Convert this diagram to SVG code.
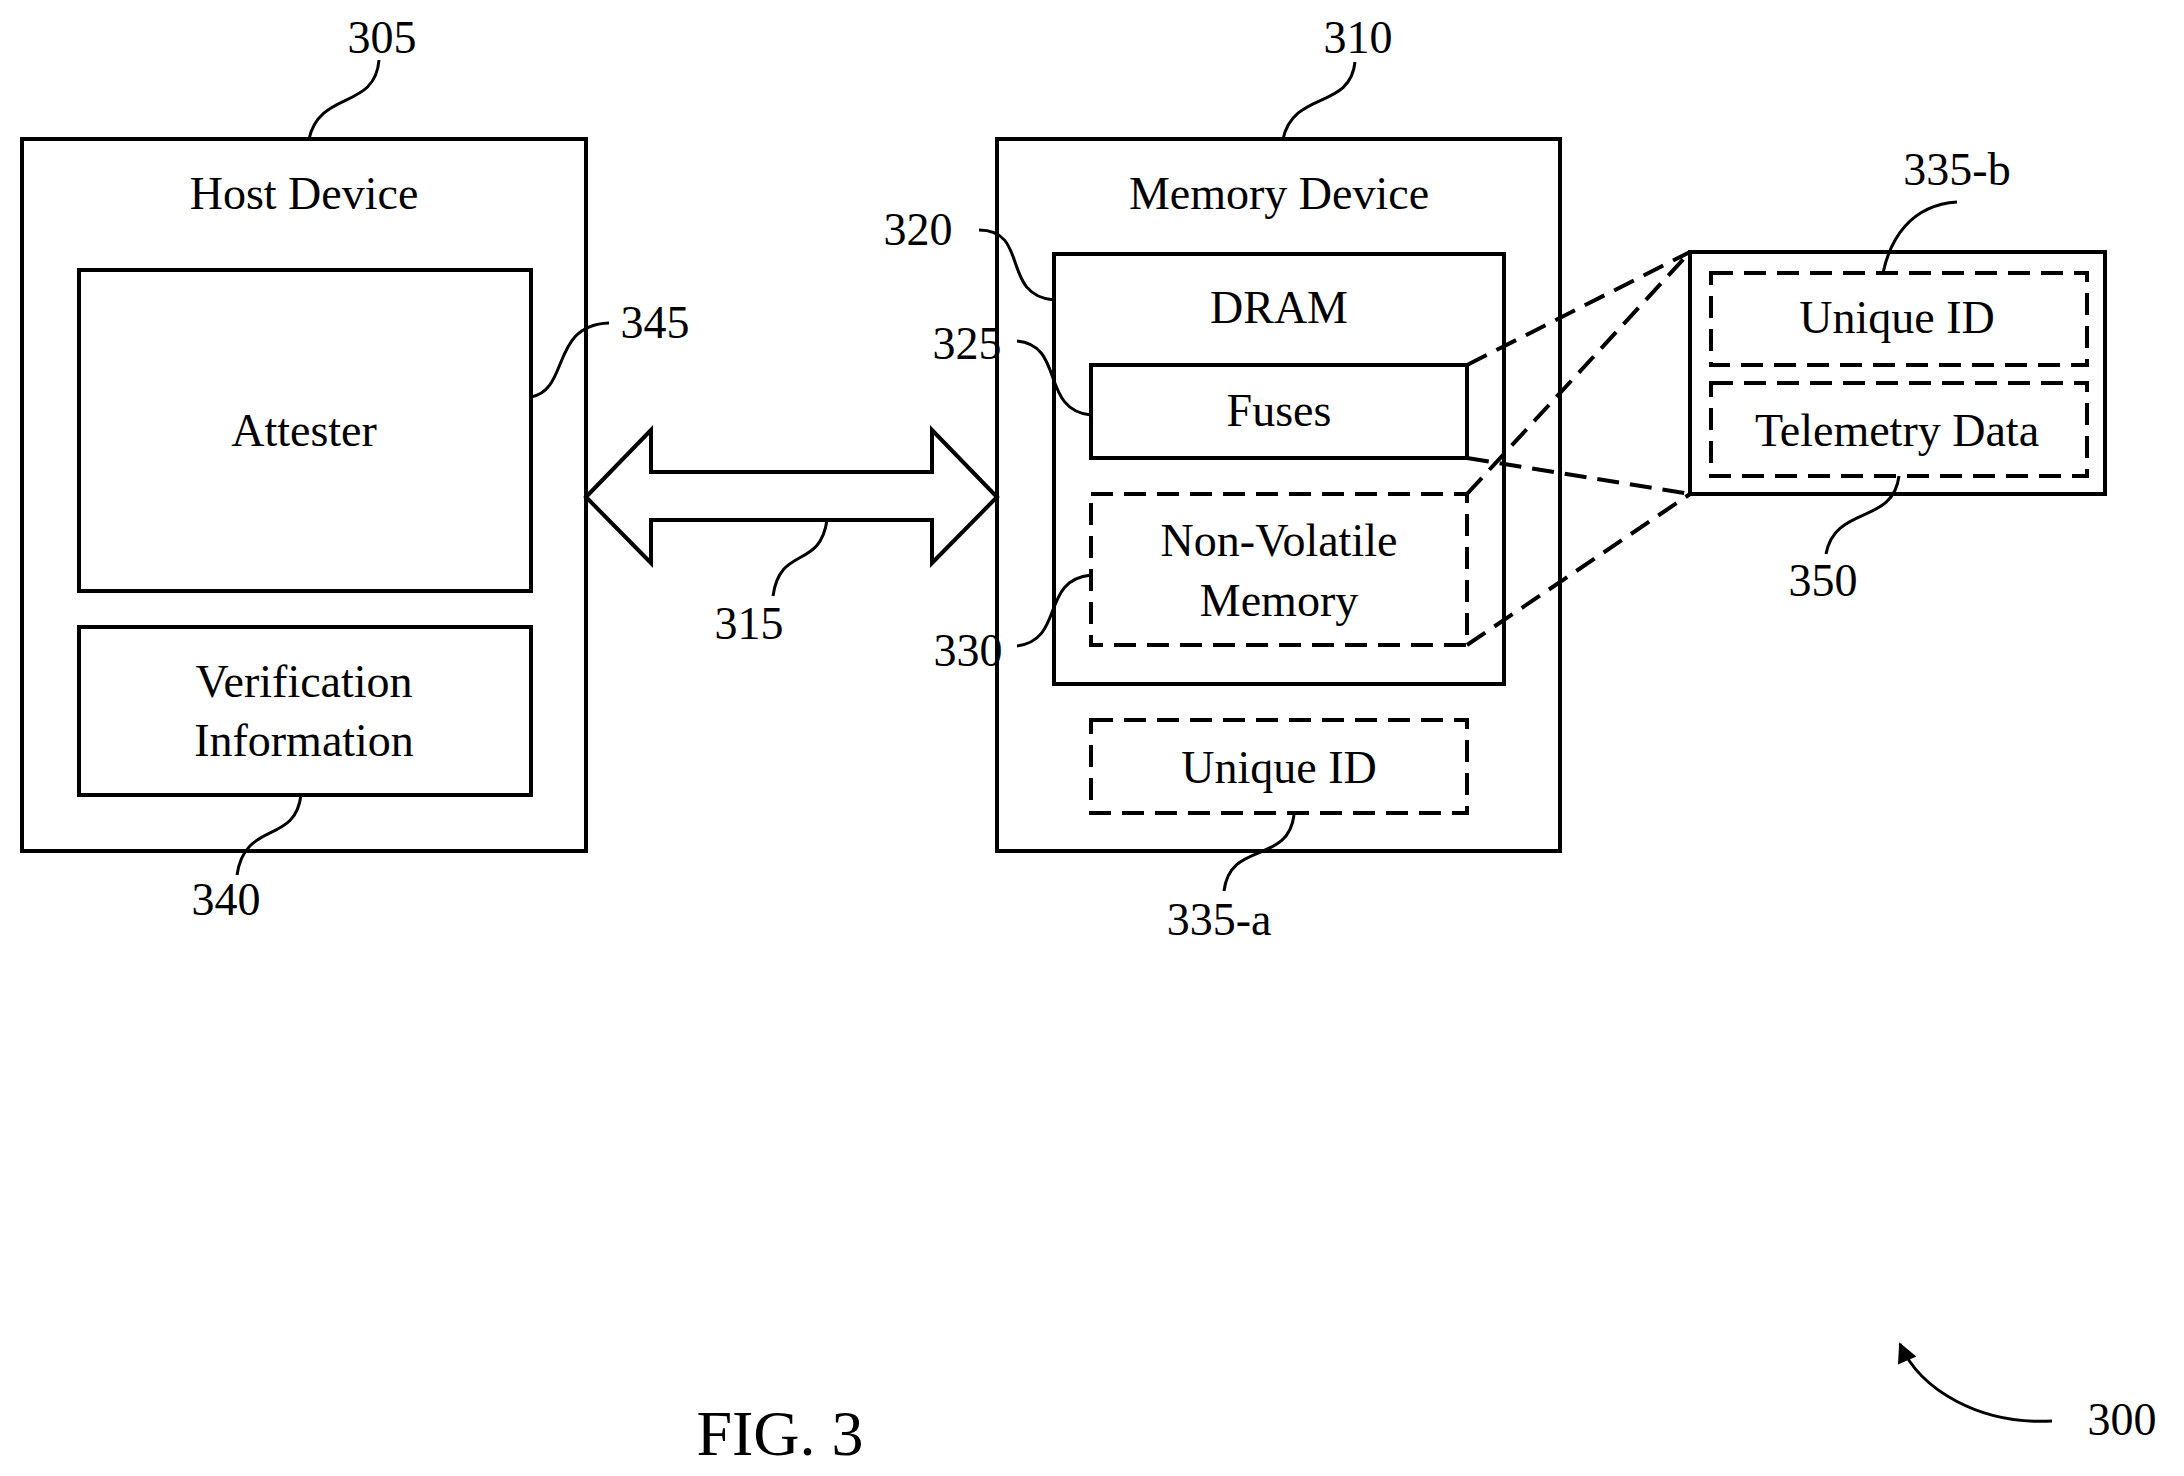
<svg xmlns="http://www.w3.org/2000/svg" width="2184" height="1476" viewBox="0 0 2184 1476">
<style>
text{font-family:"Liberation Serif",serif;font-size:46px;fill:#000;text-anchor:middle}
.b{fill:none;stroke:#000;stroke-width:4}
.d{fill:none;stroke:#000;stroke-width:4;stroke-dasharray:22,11}
.l{fill:none;stroke:#000;stroke-width:3}
</style>
<defs><marker id="ah" viewBox="0 0 10 10" refX="9" refY="5" markerWidth="24" markerHeight="20" orient="auto" markerUnits="userSpaceOnUse"><path d="M0,0L10,5L0,10z"/></marker></defs>
<rect width="2184" height="1476" fill="#fff"/>
<g id="host"><rect class="b" x="22" y="139" width="564" height="712"/><text x="304" y="209">Host Device</text></g>
<g id="attester"><rect class="b" x="79" y="270" width="452" height="321"/><text x="304" y="446">Attester</text></g>
<g id="verif"><rect class="b" x="79" y="627" width="452" height="168"/><text x="304" y="697">Verification</text><text x="304" y="756">Information</text></g>
<g id="memdev"><rect class="b" x="997" y="139" width="563" height="712"/><text x="1279" y="209">Memory Device</text></g>
<g id="dram"><rect class="b" x="1054" y="254" width="450" height="430"/><text x="1279" y="323">DRAM</text></g>
<g id="fuses"><rect class="b" x="1091" y="365" width="376" height="93"/><text x="1279" y="426">Fuses</text></g>
<g id="nvm"><rect class="d" x="1091" y="494" width="376" height="151"/><text x="1279" y="556">Non-Volatile</text><text x="1279" y="616">Memory</text></g>
<g id="uida"><rect class="d" x="1091" y="720" width="376" height="93"/><text x="1279" y="783">Unique ID</text></g>
<g id="detail"><rect class="b" x="1690" y="252" width="415" height="242"/></g>
<g id="uidb"><rect class="d" x="1711" y="273" width="376" height="92"/><text x="1897" y="333">Unique ID</text></g>
<g id="tele"><rect class="d" x="1711" y="383" width="376" height="93"/><text x="1897" y="446">Telemetry Data</text></g>
<g id="connectors">
<path class="b" d="M586,497L651,430V472H932V430L997,497L932,563V520H651V563Z" fill="#fff"/>
<path class="d" d="M1467,365L1690,252M1467,458L1690,494M1467,494L1690,252M1467,645L1690,494"/>
<path class="l" d="M309,139C320,90 375,110 379,60"/>
<path class="l" d="M1283,139C1294,90 1350,110 1355,62"/>
<path class="l" d="M531,397C570,390 550,325 609,323"/>
<path class="l" d="M979,230C1030,230 1000,295 1054,300"/>
<path class="l" d="M1017,341C1065,345 1040,410 1091,415"/>
<path class="l" d="M1017,646C1065,640 1040,580 1091,575"/>
<path class="l" d="M773,596C780,545 820,570 827,520"/>
<path class="l" d="M237,875C245,820 295,845 301,795"/>
<path class="l" d="M1224,891C1230,840 1288,865 1294,815"/>
<path class="l" d="M1957,202C1910,205 1890,240 1883,273"/>
<path class="l" d="M1826,554C1835,505 1893,525 1899,476"/>
<path class="l" d="M2052,1421C1980,1425 1920,1390 1900,1344" marker-end="url(#ah)"/>
</g>
<g id="labels">
<text x="382" y="53">305</text><text x="1358" y="53">310</text><text x="655" y="338">345</text>
<text x="918" y="245">320</text><text x="967" y="359">325</text><text x="968" y="666">330</text>
<text x="749" y="639">315</text><text x="226" y="915">340</text><text x="1219" y="935">335-a</text>
<text x="1957" y="185">335-b</text><text x="1823" y="596">350</text><text x="2122" y="1435">300</text>
<text x="780" y="1455" style="font-size:64px">FIG. 3</text>
</g>
</svg>
